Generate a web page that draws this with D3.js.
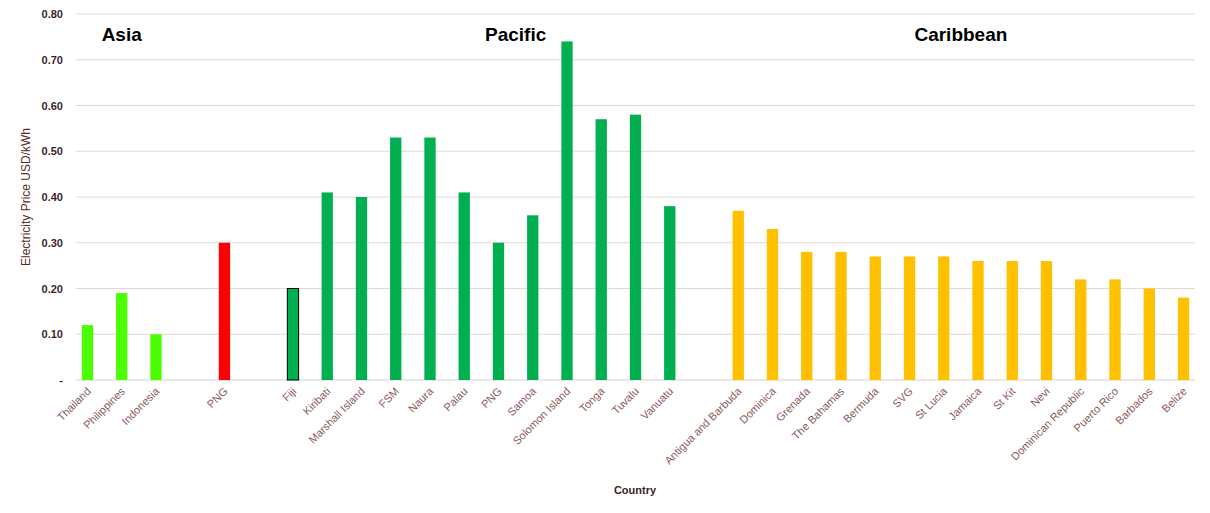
<!DOCTYPE html>
<html><head><meta charset="utf-8">
<script src="https://cdn.jsdelivr.net/npm/d3@7"></script>
<style>body{margin:0;background:#fff;font-family:Arial,"Liberation Sans",sans-serif}</style>
</head><body><div id="chart"></div>
<script>
var countries = ["Thailand","Philippines","Indonesia","","PNG","","Fiji","Kiribati","Marshall Island","FSM","Naura","Palau","PNG","Samoa","Solomon Island","Tonga","Tuvalu","Vanuatu","","Antigua and Barbuda","Dominica","Grenada","The Bahamas","Bermuda","SVG","St Lucia","Jamaica","St Kit","Nevi","Dominican Republic","Puerto Rico","Barbados","Belize"];
var prices = [0.12,0.19,0.10,null,0.30,null,0.20,0.41,0.40,0.53,0.53,0.41,0.30,0.36,0.74,0.57,0.58,0.38,null,0.37,0.33,0.28,0.28,0.27,0.27,0.27,0.26,0.26,0.26,0.22,0.22,0.20,0.18];
var groups = ["asia","asia","asia","","png","","fiji","pac","pac","pac","pac","pac","pac","pac","pac","pac","pac","pac","","car","car","car","car","car","car","car","car","car","car","car","car","car","car"];
var yTicks = [0,0.1,0.2,0.3,0.4,0.5,0.6,0.7,0.8];
var regionLabels = [["Asia",1],["Pacific",12.5],["Caribbean",25.5]];
var colors = {asia:"#4cff00",png:"#ff0000",fiji:"#00b050",pac:"#00b050",car:"#ffc000"};

var width = 1210, height = 513;
var svg = d3.select("#chart").append("svg").attr("width", width).attr("height", height);

var x = d3.scaleBand().domain(d3.range(countries.length)).range([76, 1195]).paddingInner(0.67).paddingOuter(0.17);
var y = d3.scaleLinear().domain([0, 0.8]).range([380, 14]);

svg.selectAll(".grid").data(yTicks).enter().append("line")
    .attr("x1", 76).attr("x2", 1195)
    .attr("y1", function(d){ return y(d) }).attr("y2", function(d){ return y(d) })
    .attr("stroke", function(d){ return d === 0 ? "#d9cfcf" : "#e6d6da" });

svg.selectAll(".ytick").data(yTicks).enter().append("text")
    .attr("x", 63).attr("y", function(d){ return y(d) + 4 })
    .attr("text-anchor", "end").attr("font-size", 11).attr("font-weight", "bold").attr("fill", "#3d1f1f")
    .text(function(d){ return d === 0 ? "-" : d.toFixed(2) });

svg.selectAll(".bar").data(prices).enter().filter(function(d){ return d != null })
    .append("rect")
    .attr("x", function(d, i){ return x(prices.indexOf(d) >= 0 ? 0 : 0) })
    .remove();

var idx = d3.range(countries.length).filter(function(i){ return prices[i] != null });
svg.selectAll(".bar").data(idx).enter().append("rect")
    .attr("x", function(i){ return x(i) }).attr("width", x.bandwidth())
    .attr("y", function(i){ return y(prices[i]) })
    .attr("height", function(i){ return y(0) - y(prices[i]) })
    .attr("fill", function(i){ return colors[groups[i]] })
    .attr("stroke", function(i){ return groups[i] === "fiji" ? "#000" : "none" });

svg.selectAll(".xl").data(idx).enter().append("text")
    .attr("transform", function(i){ return "translate(" + (x(i) + x.bandwidth()/2 + 4) + ",392) rotate(-45)" })
    .attr("text-anchor", "end").attr("font-size", 11).attr("fill", "#8b5a5a")
    .text(function(i){ return countries[i] });

svg.selectAll(".region").data(regionLabels).enter().append("text")
    .attr("x", function(d){ return x(Math.floor(d[1])) + x.bandwidth()/2 + (d[1] % 1) * x.step() })
    .attr("y", 41).attr("text-anchor", "middle").attr("font-size", 19).attr("font-weight", "bold")
    .text(function(d){ return d[0] });

svg.append("text").attr("transform", "translate(30,197) rotate(-90)")
    .attr("text-anchor", "middle").attr("font-size", 12).attr("fill", "#5a2a2a")
    .text("Electricity Price USD/kWh");

svg.append("text").attr("x", 635).attr("y", 494).attr("text-anchor", "middle")
    .attr("font-size", 11).attr("font-weight", "bold").attr("fill", "#3d1f1f").text("Country");
</script></body></html>
